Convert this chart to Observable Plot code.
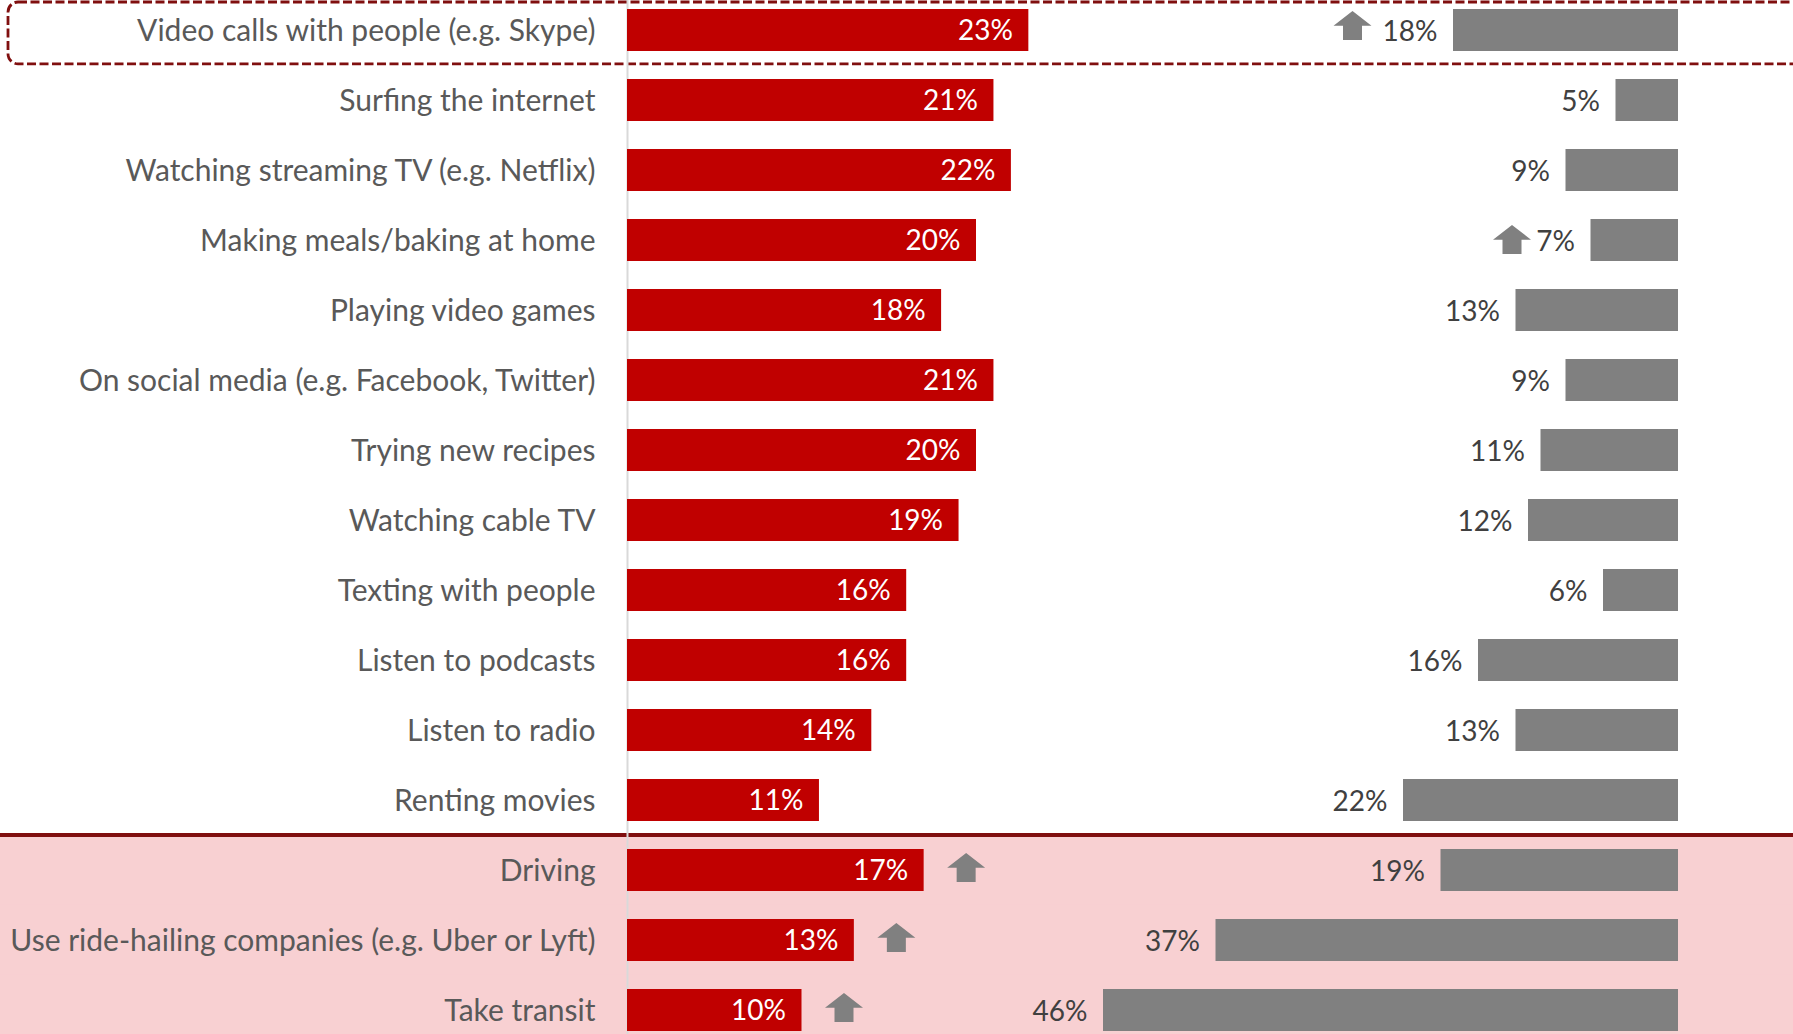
<!DOCTYPE html>
<html><head><meta charset="utf-8">
<script src="https://cdn.jsdelivr.net/npm/d3@7"></script>
<script src="https://cdn.jsdelivr.net/npm/@observablehq/plot@0.6"></script>
<style>
html,body{margin:0;padding:0;background:#fff;}
#wrap{position:relative;width:1793px;height:1034px;overflow:hidden;}
#wrap svg{position:absolute;left:0;top:0;max-width:none;}
</style></head><body><div id="wrap"></div>
<script>
// ---- data ----
const categories = [
  "Video calls with people (e.g. Skype)",
  "Surfing the internet",
  "Watching streaming TV (e.g. Netflix)",
  "Making meals/baking at home",
  "Playing video games",
  "On social media (e.g. Facebook, Twitter)",
  "Trying new recipes",
  "Watching cable TV",
  "Texting with people",
  "Listen to podcasts",
  "Listen to radio",
  "Renting movies",
  "Driving",
  "Use ride-hailing companies (e.g. Uber or Lyft)",
  "Take transit"
];
const redValues  = [23, 21, 22, 20, 18, 21, 20, 19, 16, 16, 14, 11, 17, 13, 10];
const grayValues = [18, 5, 9, 7, 13, 9, 11, 12, 6, 16, 13, 22, 19, 37, 46];
const arrowSide  = ["gray", null, null, "gray", null, null, null, null, null, null, null, null, "red", "red", "red"];
const highlighted = ["Video calls with people (e.g. Skype)"];
const transitRows = ["Driving", "Use ride-hailing companies (e.g. Uber or Lyft)", "Take transit"];

const rows = categories.map((c, i) => ({label: c, red: redValues[i], gray: grayValues[i], arrow: arrowSide[i]}));

// ---- styles ----
const W = 1793, H = 1034;
const FONT = "Lato, 'Open Sans', sans-serif";
const FS = 28, LABEL_FS = 30;
const RED = "#c00000", GRAY = "#808080", PINK = "#f8d0d2", DARKRED = "#800f0f";

const upArrow = {
  draw(context, size) {
    const s = Math.sqrt(size / Math.PI) / 10;
    const hw = 19 * s, sw = 9.5 * s, top = -14.5 * s, mid = 0.2 * s, bot = 14.5 * s;
    context.moveTo(0, top);
    context.lineTo(hw, mid);
    context.lineTo(sw, mid);
    context.lineTo(sw, bot);
    context.lineTo(-sw, bot);
    context.lineTo(-sw, mid);
    context.lineTo(-hw, mid);
    context.closePath();
  }
};

const yScale = () => ({domain: categories, range: [1.7, 1039], paddingInner: 0.4, paddingOuter: 0.1, axis: null});

// bottom layer: background, highlight, gray bars (reversed scale)
const grayPlot = Plot.plot({
  width: W, height: H, marginTop: 0, marginRight: 0, marginBottom: 0, marginLeft: 0,
  x: {domain: [0, 134.24], range: [1678, 0], axis: null},
  y: yScale(),
  style: {background: "white", fontFamily: FONT},
  marks: [
    Plot.cell(transitRows, {y: d => d, fill: PINK, insetTop: -14.1, insetBottom: -14.1}),
    Plot.ruleY([transitRows[0]], {y: d => d, dy: -35.5, stroke: DARKRED, strokeWidth: 4}),
    Plot.cell(highlighted, {y: d => d, fill: "none", stroke: DARKRED, strokeWidth: 2.8, strokeDasharray: "9,3.5", rx: 10, insetLeft: 8, insetRight: -20, insetTop: -7, insetBottom: -12.8}),
    Plot.barX(rows, {x: "gray", y: "label", fill: GRAY}),
    Plot.text(rows, {x: "gray", y: "label", text: d => d.gray + "%", textAnchor: "end", dx: -16, dy: 2, fill: "#404040", fontSize: FS}),
    Plot.dot(rows.filter(d => d.arrow === "gray" && d.gray >= 10), {x: "gray", y: "label", symbol: upArrow, r: 10, fill: GRAY, dx: -101, dy: -5}),
    Plot.dot(rows.filter(d => d.arrow === "gray" && d.gray < 10), {x: "gray", y: "label", symbol: upArrow, r: 10, fill: GRAY, dx: -79, dy: -1})
  ]
});

// top layer: axis line, category labels, red bars
const redPlot = Plot.plot({
  width: W, height: H, marginTop: 0, marginRight: 0, marginBottom: 0, marginLeft: 627,
  x: {domain: [0, 66.82], axis: null},
  y: yScale(),
  style: {background: "transparent", fontFamily: FONT},
  marks: [
    Plot.ruleX([0], {stroke: "#d9d9d9", strokeWidth: 2}),
    Plot.barX(rows, {x: "red", y: "label", fill: RED}),
    Plot.text(rows, {x: "red", y: "label", text: d => d.red + "%", textAnchor: "end", dx: -16, dy: 1, fill: "white", fontSize: FS}),
    Plot.text(rows, {x: () => 0, y: "label", text: "label", textAnchor: "end", dx: -32, dy: 1, fill: "#595959", fontSize: LABEL_FS}),
    Plot.dot(rows.filter(d => d.arrow === "red"), {x: "red", y: "label", symbol: upArrow, r: 10, fill: GRAY, dx: 42, dy: -3})
  ]
});

const wrap = document.getElementById("wrap");
wrap.appendChild(grayPlot);
wrap.appendChild(redPlot);
</script>
</body></html>
